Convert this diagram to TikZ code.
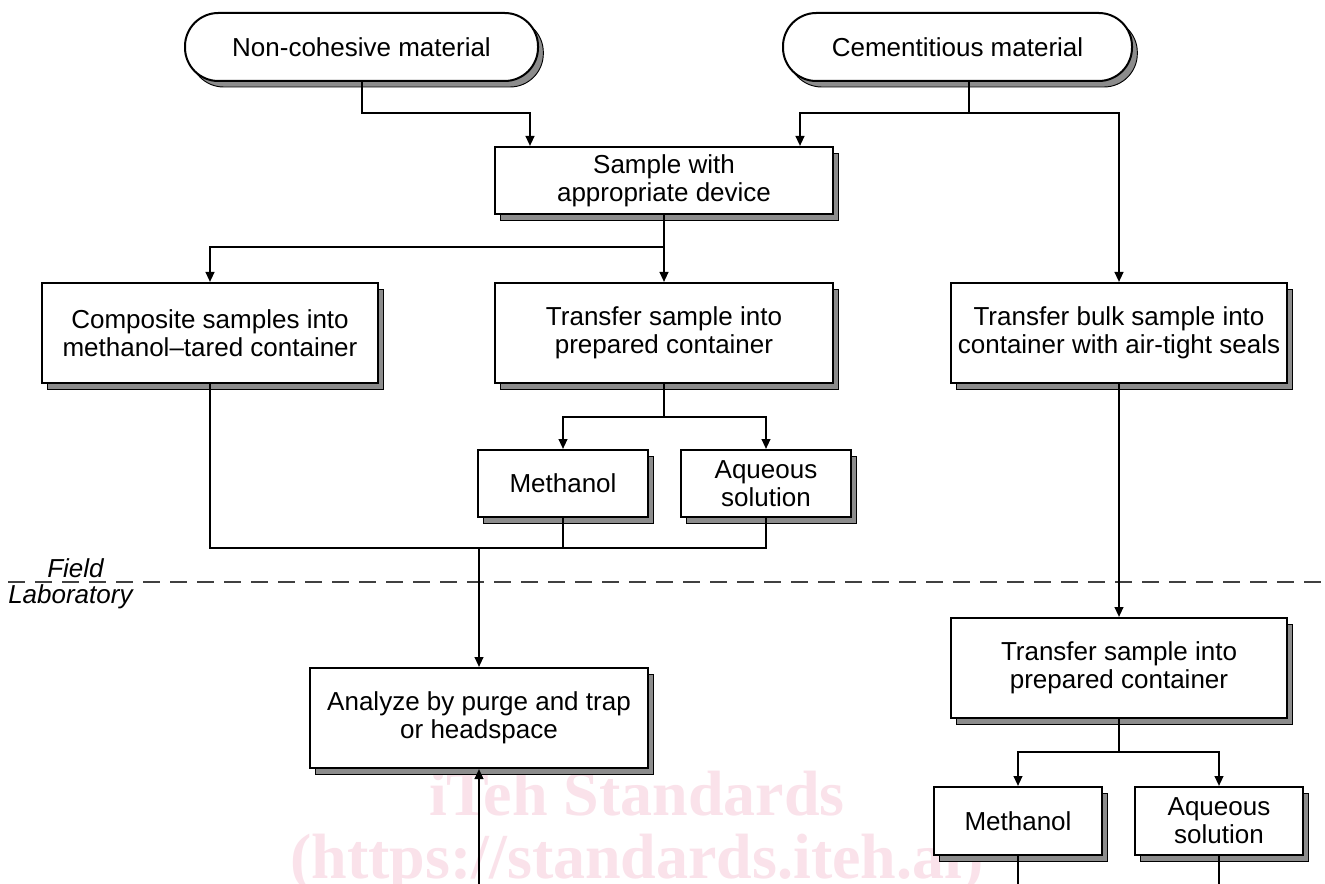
\documentclass[tikz,border=0pt]{standalone}
\usepackage{fontspec}
\setmainfont{Liberation Sans}
\newfontfamily\wmfont{Liberation Serif}
\usetikzlibrary{arrows.meta,shadows,calc}
\definecolor{wmpink}{RGB}{250,226,234}
\begin{document}
\begin{tikzpicture}[x=0.75pt,y=-0.75pt,
  ln/.style={line width=1.5pt},
  arr/.style={ln,-{Triangle[length=7.5pt,width=6.5pt]}},
  shad/.style={drop shadow={shadow xshift=4pt,shadow yshift=-4.5pt,opacity=1,fill=black!45,draw=black,line width=0.7pt}},
  box/.style={draw,line width=1.5pt,fill=white,shad,align=center,inner sep=0pt,font=\fontsize{19.5}{21}\selectfont},
  term/.style={box,rounded corners=25pt},
  lbl/.style={font=\fontsize{19.5}{21}\selectfont\itshape,anchor=base west,inner sep=0pt},
  wm/.style={font=\wmfont\bfseries\fontsize{48}{50}\selectfont,text=wmpink,anchor=base,inner sep=0pt}
]
\useasboundingbox (0,0) rectangle (1325,884);
\fill[white] (0,0) rectangle (1325,884);

% watermark (drawn first, behind everything)
\node[wm] (wm1) at (637,815) {iTeh Standards};
\node[wm] (wm2) at (637,878) {(https://standards.iteh.ai)};

% field / laboratory divider
\coordinate (dl) at (8,582);
\coordinate (dr) at (1325,582);
\draw[line width=1pt,black!75,dash pattern=on 12.75pt off 7.5pt] (dl) -- (dr);
\node[lbl] (field) at (47,577) {Field};
\node[lbl] (lab) at (8,603) {Laboratory};

% nodes
\node[term,minimum width=264.75pt,minimum height=51pt] (t1) at (361.5,47) {Non-cohesive material};
\node[term,minimum width=261.75pt,minimum height=51pt] (t2) at (957.5,47) {Cementitious material};
\node[box,minimum width=253.5pt,minimum height=50.25pt] (sample) at (664,180.5) {Sample with\\appropriate device};
\node[box,minimum width=252pt,minimum height=75pt] (comp) at (210,333) {Composite samples into\\methanol–tared container};
\node[box,minimum width=253.5pt,minimum height=75pt] (trans1) at (664,333) {Transfer sample into\\prepared container};
\node[box,minimum width=252pt,minimum height=75pt] (bulk) at (1119,333) {Transfer bulk sample into\\container with air-tight seals};
\node[box,minimum width=127.5pt,minimum height=50.25pt] (meth1) at (563,483.5) {Methanol};
\node[box,minimum width=127.5pt,minimum height=50.25pt] (aq1) at (766,483.5) {Aqueous\\solution};
\node[box,minimum width=253.5pt,minimum height=75pt] (analyze) at (479,718) {Analyze by purge and trap\\or headspace};
\node[box,minimum width=252pt,minimum height=75pt] (trans2) at (1119,668) {Transfer sample into\\prepared container};
\node[box,minimum width=126pt,minimum height=51pt] (meth2) at (1018,821) {Methanol};
\node[box,minimum width=126pt,minimum height=51pt] (aq2) at (1219,821) {Aqueous\\solution};

% connectors
\coordinate (j1) at (530,113);
\coordinate (j2) at (800,113);
\draw[arr] (t1.south) |- (j1) -- (j1 |- sample.north);
\coordinate (s2) at ($(t2.south)+(11.5,0)$);
\draw[arr] (s2) |- (j2) -- (j2 |- sample.north);
\draw[arr] (s2) |- (bulk.north |- j2) -- (bulk.north);

\coordinate (j4) at (0,247);
\draw[arr] (sample.south) -- (sample.south |- j4) -| (comp.north);
\draw[arr] (sample.south) -- (trans1.north);

\coordinate (j5) at (0,417);
\draw[arr] (trans1.south) -- (trans1.south |- j5) -| (meth1.north);
\draw[arr] (trans1.south |- j5) -| (aq1.north);

\coordinate (j6) at (479,548);
\draw[ln] (comp.south) |- (aq1.south |- j6) -- (aq1.south);
\draw[ln] (meth1.south) -- (meth1.south |- j6);
\draw[arr] (j6) -- (analyze.north);

\draw[arr] (bulk.south) -- (trans2.north);
\coordinate (j7) at (0,752);
\draw[arr] (trans2.south) -- (trans2.south |- j7) -| (meth2.north);
\draw[arr] (trans2.south |- j7) -| (aq2.north);

\coordinate (bot) at (0,888);
\draw[ln] (meth2.south) -- (meth2.south |- bot);
\draw[ln] (aq2.south) -- (aq2.south |- bot);
\draw[arr] (analyze.south |- bot) -- (analyze.south);
\end{tikzpicture}
\end{document}
